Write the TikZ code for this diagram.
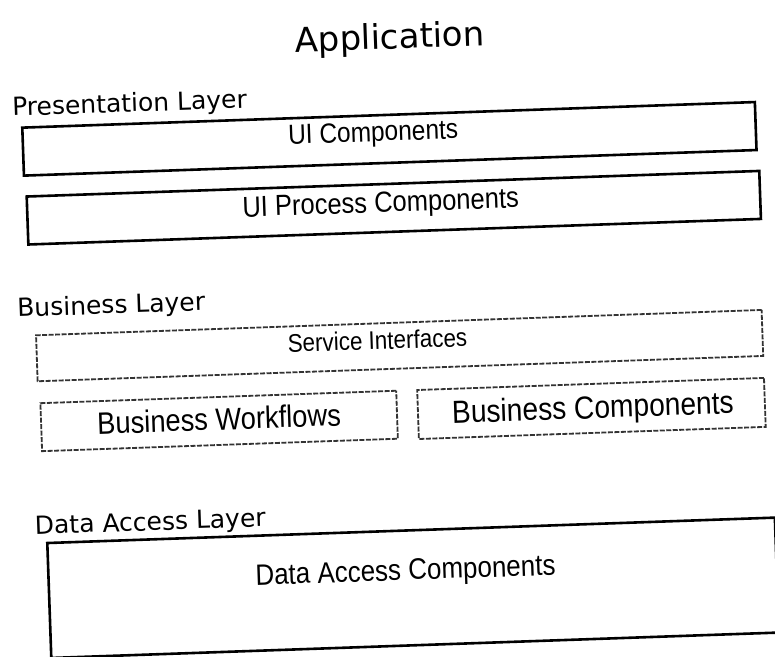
\documentclass[tikz,border=0pt]{standalone}
\usepackage{fontspec}
\newfontfamily\labelfont{DejaVu Sans}
\newfontfamily\boxfont[FakeStretch=0.88]{Liberation Sans}
\usetikzlibrary{positioning}
\tikzset{
  layer/.style={draw, rectangle, line width=2.6pt, inner sep=0pt},
  dlayer/.style={draw=black!80, rectangle, line width=1.8pt, dash pattern=on 5pt off 1.5pt, inner sep=0pt},
  lname/.style={anchor=base west, inner sep=0pt, font=\labelfont\fontsize{25}{30}\selectfont},
  ctext/.style={anchor=base, inner sep=0pt, font=\boxfont\fontsize{#1}{#1}\selectfont},
  ctext/.default=25,
}

\begin{document}
\begin{tikzpicture}[x=1pt,y=-1pt]
\useasboundingbox (0,0) rectangle (775,656);
\clip (0,0) rectangle (775,656);
\begin{scope}[rotate around={2:(388,328)}, transform shape]
\node[anchor=base, inner sep=0pt, font=\labelfont\fontsize{34}{40}\selectfont] (title) at (400,49) {Application};
% presentation layer
\node[lname] (presl) at (20,103) {Presentation Layer};
\node[layer, minimum width=733pt, minimum height=48pt] (ui) at (396,139) {};
\node[layer, minimum width=733pt, minimum height=48pt] (uip) at (398,208) {};
\node[ctext=27.8] (uit) at (380,141) {UI Components};
\node[ctext=29] (uipt) at (385,212) {UI Process Components};
% business layer
\node[lname] (busl) at (18,304) {Business Layer};
\node[dlayer, minimum width=726pt, minimum height=46pt] (svc) at (399,346) {};
\node[dlayer, minimum width=356pt, minimum height=48pt] (bw) at (216,415) {};
\node[dlayer, minimum width=347pt, minimum height=49pt] (bc) at (588.5,415.5) {};
\node[ctext=25.5] (svct) at (377,349) {Service Interfaces};
\node[ctext=31] (bwt) at (216,424) {Business Workflows};
\node[ctext=32] (bct) at (590,425.5) {Business Components};
% data access layer
\node[lname] (datal) at (28,522) {Data Access Layer};
\node[layer, minimum width=728pt, minimum height=115pt] (dac) at (404,588.5) {};
\node[ctext=29.5] (dact) at (397,580.5) {Data Access Components};
\end{scope}
\end{tikzpicture}
\end{document}
